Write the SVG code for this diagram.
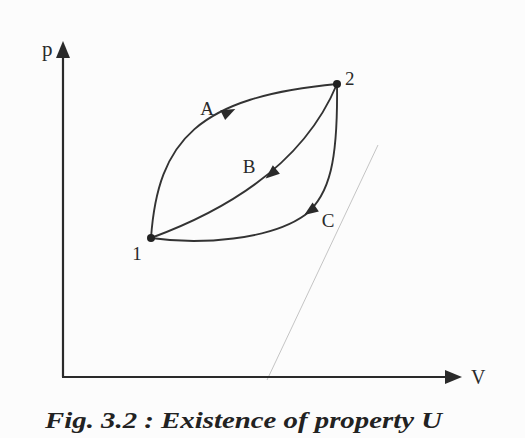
<svg xmlns="http://www.w3.org/2000/svg" width="525" height="438" viewBox="0 0 525 438">
  <style>
    .lbl { font-family: "Liberation Serif", "Times New Roman", serif; font-size: 19px; fill: #2a2a2a; }
    .axis { stroke: #2a2a2a; stroke-width: 2.2; fill: none; }
    .curve { stroke: #333; stroke-width: 1.9; fill: none; }
    .head { fill: #2a2a2a; }
    .cap { font-family: "Liberation Serif", "Times New Roman", serif; font-size: 23px; font-weight: bold; font-style: italic; fill: #222; }
  </style>
  <rect x="0" y="0" width="525" height="438" fill="#fcfcfc"/>

  <line x1="378" y1="145" x2="267" y2="380" stroke="#c4c4c4" stroke-width="1"/>

  <g id="axes">
    <path class="axis" d="M63,377 L63,56"/>
    <polygon class="head" points="63,41 56,58 70,58"/>
    <path class="axis" d="M62,377 L447,377"/>
    <polygon class="head" points="462,377 445,370 445,384"/>
    <text class="lbl" x="42" y="56" style="font-size:21px">p</text>
    <text class="lbl" x="471" y="384" style="font-size:20px">V</text>
  </g>

  <g id="connectors">
    <path id="path-A" class="curve" d="M151,238 C158,140 198,97 337,84"/>
    <path id="path-B" class="curve" d="M337,84 Q295,185 151,238"/>
    <path id="path-C" class="curve" d="M337,84 C338,160 330,195 305,215 C270,240 200,245 151,238"/>
    <polygon class="head" points="7,0 -7,-5.5 -7,5.5" transform="translate(229,112) rotate(-26)"/>
    <polygon class="head" points="7,0 -7,-5.5 -7,5.5" transform="translate(271,174) rotate(140)"/>
    <polygon class="head" points="7,0 -7,-5.5 -7,5.5" transform="translate(310,211) rotate(145)"/>
    <text class="lbl" x="207" y="115" text-anchor="middle">A</text>
    <text class="lbl" x="249" y="173" text-anchor="middle">B</text>
    <text class="lbl" x="328" y="227" text-anchor="middle">C</text>
  </g>

  <g id="node-1">
    <circle cx="151" cy="238" r="4" fill="#222"/>
    <text class="lbl" x="137" y="260" text-anchor="middle">1</text>
  </g>
  <g id="node-2">
    <circle cx="337" cy="84" r="4" fill="#222"/>
    <text class="lbl" x="345" y="85">2</text>
  </g>

  <g id="caption">
    <text class="cap" x="45" y="428" textLength="397" lengthAdjust="spacingAndGlyphs">Fig. 3.2 : Existence of property U</text>
  </g>
</svg>
